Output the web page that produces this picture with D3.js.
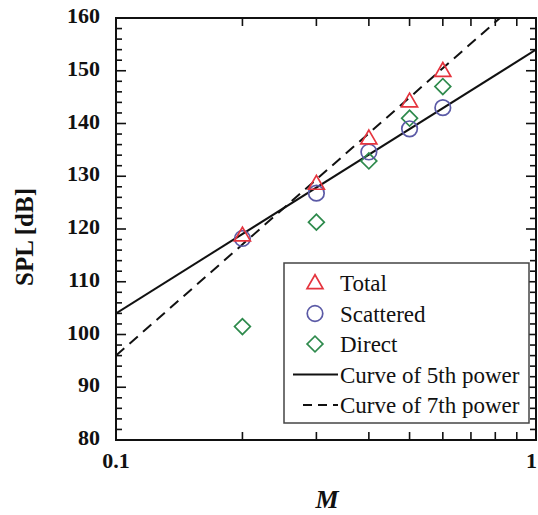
<!DOCTYPE html>
<html>
<head>
<meta charset="utf-8">
<script src="https://cdn.jsdelivr.net/npm/d3@7"></script>
<style>
  html, body { margin: 0; padding: 0; background: #fff; }
  svg { display: block; font-family: "Liberation Serif", "DejaVu Serif", "Times New Roman", serif; }
</style>
</head>
<body>
<svg id="chart" width="538" height="515"></svg>
<script>
// Mach numbers of the measurements
const machNumbers = [0.2, 0.3, 0.4, 0.5, 0.6];
// Sound pressure levels [dB]
const totalSPL = [118.8, 128.6, 137.2, 144.2, 150.0];
const scatteredSPL = [118.2, 126.8, 134.6, 139.0, 143.0];
const directSPL = [101.5, 121.3, 132.9, 141.0, 147.0];
// Power-law reference curves, given at the ends of the M range
const curveM = [0.1, 1];
const curve5th = [104, 154];
const curve7th = [96, 166];
// Axis ticks
const yMajorTicks = [80, 90, 100, 110, 120, 130, 140, 150, 160];
const xTickLabels = ["0.1", "1"];
const xInnerTicks = [0.2, 0.3, 0.4, 0.5, 0.6, 0.7, 0.8, 0.9];

const svg = d3.select("#chart");
const plotLeft = 116, plotRight = 536, plotTop = 18, plotBottom = 440;

const x = d3.scaleLog().domain([0.1, 1]).range([plotLeft, plotRight]);
const y = d3.scaleLinear().domain([80, 160]).range([plotBottom, plotTop]);

svg.append("defs").append("clipPath").attr("id", "plotClip")
  .append("rect").attr("x", plotLeft).attr("y", plotTop)
  .attr("width", plotRight - plotLeft).attr("height", plotBottom - plotTop);

// Fitted curves
const curveLine = d3.line().x(d => x(d[0])).y(d => y(d[1]));
const plot = svg.append("g").attr("clip-path", "url(#plotClip)");
plot.append("path")
  .datum(curveM.map((m, i) => [m, curve5th[i]]))
  .attr("d", curveLine).attr("fill", "none")
  .attr("stroke", "#111").attr("stroke-width", 2);
plot.append("path")
  .datum(curveM.map((m, i) => [m, curve7th[i]]))
  .attr("d", curveLine).attr("fill", "none")
  .attr("stroke", "#111").attr("stroke-width", 2)
  .attr("stroke-dasharray", "11,7");

// Marker shapes
const sym = {
  triangle: d3.symbol().type(d3.symbolTriangle).size(110),
  circle: d3.symbol().type(d3.symbolCircle).size(190),
  diamond: d3.symbol().type(d3.symbolSquare).size(125)
};
const series = [
  { name: "Total", values: totalSPL, shape: "triangle", color: "#e5343e" },
  { name: "Scattered", values: scatteredSPL, shape: "circle", color: "#5b5aa6" },
  { name: "Direct", values: directSPL, shape: "diamond", color: "#2e8a4c" }
];

function drawMarker(g, s, cx, cy) {
  const p = g.append("path")
    .attr("d", sym[s.shape]())
    .attr("fill", "none")
    .attr("stroke", s.color)
    .attr("stroke-width", 1.7);
  if (s.shape === "diamond") p.attr("transform", `translate(${cx},${cy}) rotate(45)`);
  else if (s.shape === "triangle") p.attr("transform", `translate(${cx},${cy + 1})`);
  else p.attr("transform", `translate(${cx},${cy})`);
}

// Draw order: diamonds, circles, triangles
[series[2], series[1], series[0]].forEach(s => {
  const g = svg.append("g");
  s.values.forEach((v, i) => drawMarker(g, s, x(machNumbers[i]), y(v)));
});

// Frame
svg.append("rect").attr("x", plotLeft).attr("y", plotTop)
  .attr("width", plotRight - plotLeft).attr("height", plotBottom - plotTop)
  .attr("fill", "none").attr("stroke", "#111").attr("stroke-width", 2);

// Y ticks on both sides (major every 10 dB, minor every 2 dB)
const yAll = d3.range(80, 160.1, 2);
const ticks = svg.append("g").attr("stroke", "#111").attr("stroke-width", 1.6);
yAll.forEach(v => {
  const len = v % 10 === 0 ? 10 : 6;
  ticks.append("line").attr("x1", plotLeft).attr("x2", plotLeft + len)
    .attr("y1", y(v)).attr("y2", y(v));
  ticks.append("line").attr("x1", plotRight).attr("x2", plotRight - len)
    .attr("y1", y(v)).attr("y2", y(v));
});
// X ticks on bottom and top
xInnerTicks.forEach(m => {
  ticks.append("line").attr("x1", x(m)).attr("x2", x(m))
    .attr("y1", plotBottom).attr("y2", plotBottom - 8);
  ticks.append("line").attr("x1", x(m)).attr("x2", x(m))
    .attr("y1", plotTop).attr("y2", plotTop + 8);
});

// Tick labels
svg.append("g").selectAll("text").data(yMajorTicks).join("text")
  .attr("x", plotLeft - 16).attr("y", d => y(d) + 5)
  .attr("text-anchor", "end")
  .attr("font-size", 22).attr("font-weight", "bold").attr("fill", "#111")
  .text(d => d);
svg.append("g").selectAll("text").data(xTickLabels).join("text")
  .attr("x", (d, i) => i === xTickLabels.length - 1 ? 537 : x(+d))
  .attr("y", 468)
  .attr("text-anchor", (d, i) => i === xTickLabels.length - 1 ? "end" : "middle")
  .attr("font-size", 22).attr("font-weight", "bold").attr("fill", "#111")
  .text(d => d);

// Axis titles
svg.append("text")
  .attr("transform", `translate(33, ${(plotTop + plotBottom) / 2 + 8}) rotate(-90)`)
  .attr("text-anchor", "middle")
  .attr("font-size", 25).attr("font-weight", "bold").attr("fill", "#111")
  .text("SPL [dB]");
svg.append("text")
  .attr("x", 327).attr("y", 508)
  .attr("text-anchor", "middle")
  .attr("font-size", 26).attr("font-weight", "bold").attr("font-style", "italic")
  .attr("fill", "#111")
  .text("M");

// Legend
const lg = svg.append("g");
lg.append("rect").attr("x", 284).attr("y", 263).attr("width", 245).attr("height", 160)
  .attr("fill", "#fff").attr("stroke", "#444").attr("stroke-width", 1.5);
const rowY = i => 283 + i * 30.5;
series.forEach((s, i) => {
  drawMarker(lg, s, 315, rowY(i));
});
const lineEntries = [
  { name: "Curve of 5th power", dash: null, x1: 293 },
  { name: "Curve of 7th power", dash: "9,6", x1: 303 }
];
lineEntries.forEach((e, j) => {
  const l = lg.append("line").attr("x1", e.x1).attr("x2", 338)
    .attr("y1", rowY(3 + j)).attr("y2", rowY(3 + j))
    .attr("stroke", "#111").attr("stroke-width", 1.8);
  if (e.dash) l.attr("stroke-dasharray", e.dash);
});
lg.selectAll("text.lab").data(series.map(s => s.name).concat(lineEntries.map(e => e.name)))
  .join("text").attr("class", "lab")
  .attr("x", 340).attr("y", (d, i) => rowY(i) + 8)
  .attr("font-size", 23).attr("fill", "#111")
  .text(d => d);
</script>
</body>
</html>
